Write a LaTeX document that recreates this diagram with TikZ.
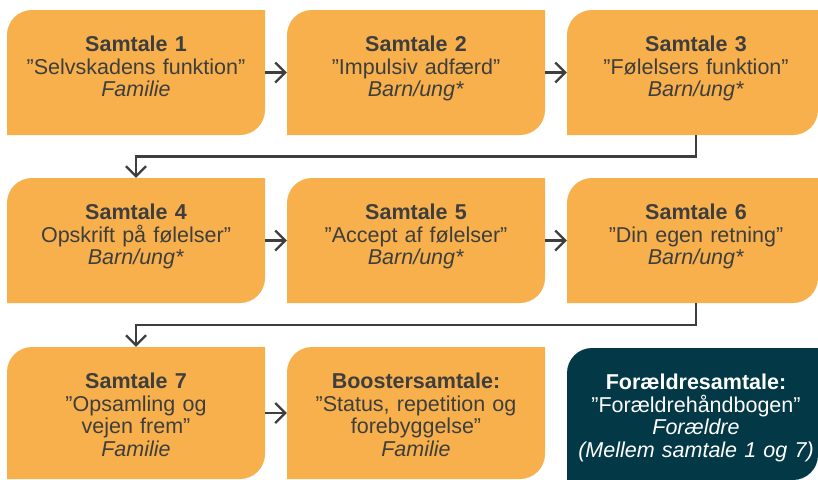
\documentclass[tikz,border=0pt]{standalone}
\usepackage{fontspec}
\setmainfont{Liberation Sans}
\usetikzlibrary{arrows.meta,calc}
\definecolor{boxorange}{RGB}{247,176,76}
\definecolor{boxteal}{RGB}{3,57,70}
\definecolor{txtgray}{RGB}{62,62,62}
\def\boxcut{0pt}
\tikzset{
	talk/.style={minimum width=258pt, inner sep=0pt, text width=248pt, align=center,
		text=txtgray, font=\fontsize{21.5pt}{22.5pt}\selectfont,
		text height=41.5pt, text depth=83.5pt,
		path picture={\fill[#1] ([yshift=-25pt]path picture bounding box.north west)
			arc[start angle=180,end angle=90,radius=25pt] -- ([xshift=-\boxcut]path picture bounding box.north east)
			-- ([xshift=-\boxcut,yshift=25pt]path picture bounding box.south east)
			arc[start angle=0,end angle=-90,radius=25pt] -- (path picture bounding box.south west) -- cycle;}},
	talk/.default=boxorange,
	rightcut/.code={\def\boxcut{7pt}},
	lastrow/.style={text depth=90.5pt},
	flow/.style={draw=txtgray, line width=2.2pt, -{Straight Barb[length=10pt,width=20pt]}}
}
\begin{document}
\begin{tikzpicture}[x=1pt,y=1pt]
			%%%%% START %%%%%
			\useasboundingbox (0,0) rectangle (818,-479);
			
			\node[talk] (s1) at (136,-72.5) {\textbf{Samtale 1}\\”Selvskadens funktion”\\\textit{Familie}};
			\node[talk] (s2) at (416,-72.5) {\textbf{Samtale 2}\\”Impulsiv adfærd”\\\textit{Barn/ung*}};
			\node[talk,rightcut] (s3) at (696,-72.5) {\textbf{Samtale 3}\\”Følelsers funktion”\\\textit{Barn/ung*}};
			
			\node[talk] (s4) at (136,-240.5) {\textbf{Samtale 4}\\Opskrift på følelser”\\\textit{Barn/ung*}};
			\node[talk] (s5) at (416,-240.5) {\textbf{Samtale 5}\\”Accept af følelser”\\\textit{Barn/ung*}};
			\node[talk,rightcut] (s6) at (696,-240.5) {\textbf{Samtale 6}\\”Din egen retning”\\\textit{Barn/ung*}};
			
			\node[talk,lastrow] (s7) at (136,-413) {\textbf{Samtale 7}\\”Opsamling og\\vejen frem”\\\textit{Familie}};
			\node[talk,lastrow] (boost) at (416,-413) {\textbf{Boostersamtale:}\\”Status, repetition og\\forebyggelse”\\\textit{Familie}};
			\node[talk=boxteal,rightcut,lastrow,text=white] (parent) at (696,-414) {\textbf{Forældresamtale:}\\”Forældrehåndbogen”\\\textit{Forældre}\\\textit{(Mellem samtale 1 og 7)}};
			
			\draw[flow] (s1) -- (s2);
			\draw[flow] (s2) -- (s3);
			\draw[flow] (s4) -- (s5);
			\draw[flow] (s5) -- (s6);
			\draw[flow] (s7) -- (boost);
			
			\draw[flow] (s3.south) -- ($(s3.south)!0.5!(s3.south|-s4.north)$) -| (s4.north);
			\draw[flow] (s6.south) -- ($(s6.south)!0.5!(s6.south|-s7.north)$) -| (s7.north);
			%%%%% END %%%%%
\end{tikzpicture}
\end{document}
